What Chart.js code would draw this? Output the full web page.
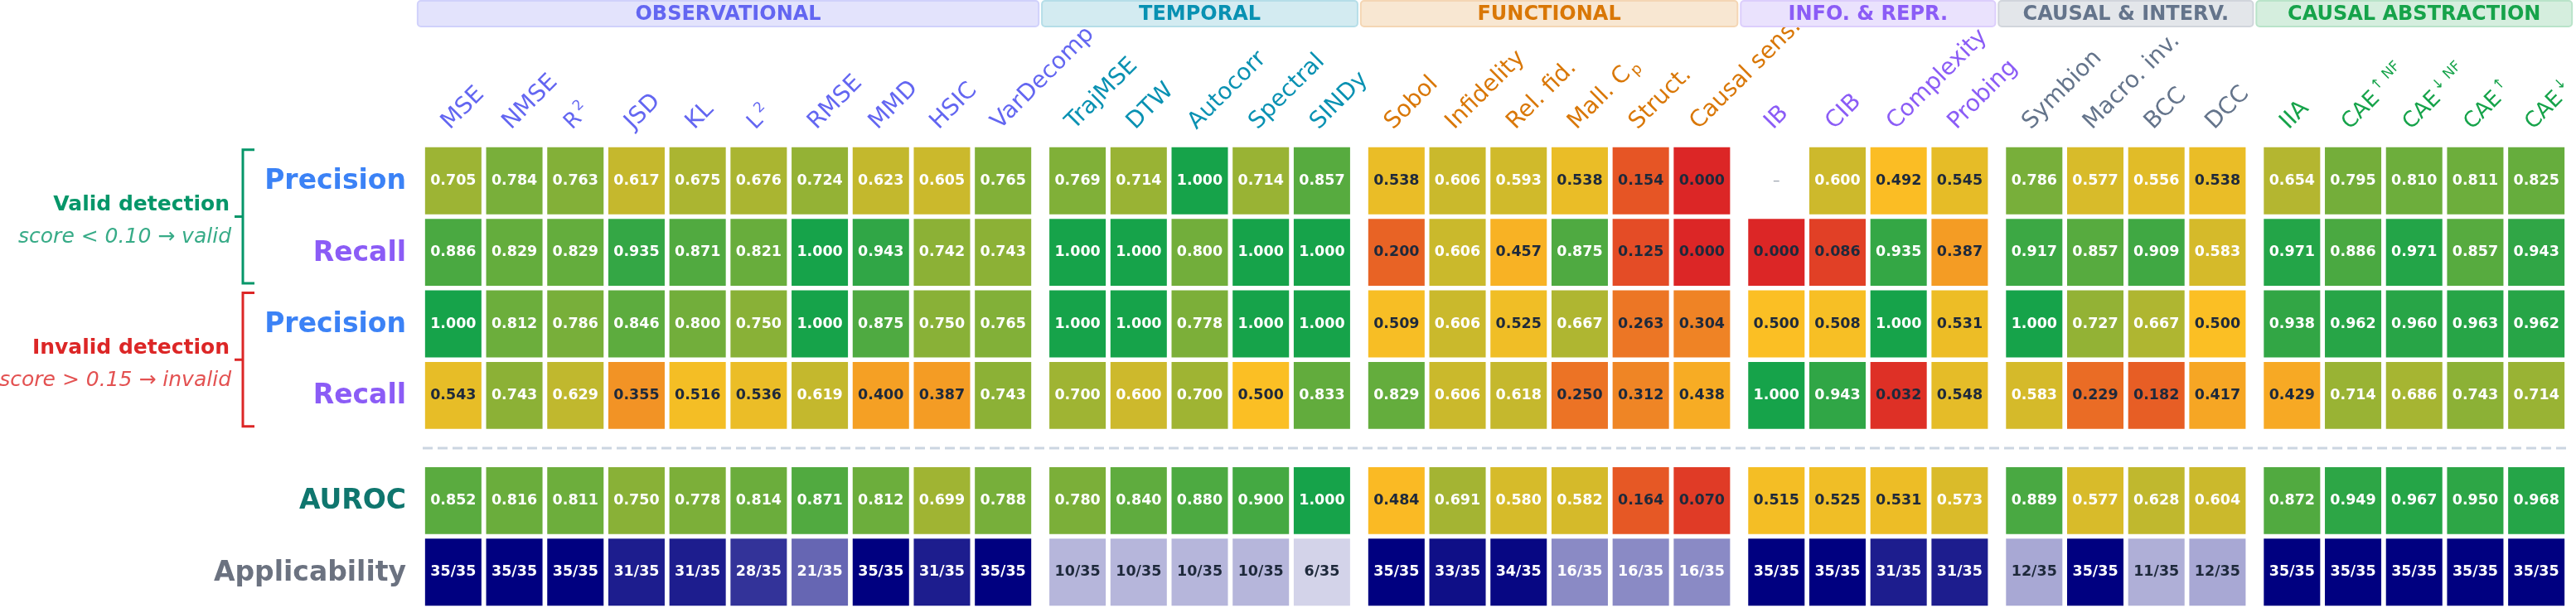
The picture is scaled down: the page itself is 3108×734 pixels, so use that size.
<!DOCTYPE html>
<html>
<head>
<meta charset="utf-8">
<script src="https://cdn.jsdelivr.net/npm/chart.js@4"></script>
<style>
  body { margin: 0; background: #fff; }
  #wrap { width: 3108px; height: 734px; position: relative; }
</style>
</head>
<body>
<div id="wrap"><canvas id="heat"></canvas></div>
<script>
// groups of metrics
const groups = ["OBSERVATIONAL", "TEMPORAL", "FUNCTIONAL", "INFO. & REPR.", "CAUSAL & INTERV.", "CAUSAL ABSTRACTION"];
const groupSizes = [10, 5, 6, 4, 4, 5];
const groupColors = ["#6366f1", "#0891b2", "#d97706", "#8b5cf6", "#64748b", "#16a34a"];

// ^ = superscript, _ = subscript
const metrics = [
    "MSE", "NMSE", "R^2", "JSD", "KL", "L^2", "RMSE", "MMD", "HSIC", "VarDecomp",
    "TrajMSE", "DTW", "Autocorr", "Spectral", "SINDy",
    "Sobol", "Infidelity", "Rel. fid.", "Mall. C_p", "Struct.", "Causal sens.",
    "IB", "CIB", "Complexity", "Probing",
    "Symbion", "Macro. inv.", "BCC", "DCC",
    "IIA", "CAE^↑ NF", "CAE^↓ NF", "CAE^↑", "CAE^↓"
];

const validPrecision = [0.705, 0.784, 0.763, 0.617, 0.675, 0.676, 0.724, 0.623, 0.605, 0.765,
    0.769, 0.714, 1.000, 0.714, 0.857,
    0.538, 0.606, 0.593, 0.538, 0.154, 0.000,
    null, 0.600, 0.492, 0.545,
    0.786, 0.577, 0.556, 0.538,
    0.654, 0.795, 0.810, 0.811, 0.825];
const validRecall = [0.886, 0.829, 0.829, 0.935, 0.871, 0.821, 1.000, 0.943, 0.742, 0.743,
    1.000, 1.000, 0.800, 1.000, 1.000,
    0.200, 0.606, 0.457, 0.875, 0.125, 0.000,
    0.000, 0.086, 0.935, 0.387,
    0.917, 0.857, 0.909, 0.583,
    0.971, 0.886, 0.971, 0.857, 0.943];
const invalidPrecision = [1.000, 0.812, 0.786, 0.846, 0.800, 0.750, 1.000, 0.875, 0.750, 0.765,
    1.000, 1.000, 0.778, 1.000, 1.000,
    0.509, 0.606, 0.525, 0.667, 0.263, 0.304,
    0.500, 0.508, 1.000, 0.531,
    1.000, 0.727, 0.667, 0.500,
    0.938, 0.962, 0.960, 0.963, 0.962];
const invalidRecall = [0.543, 0.743, 0.629, 0.355, 0.516, 0.536, 0.619, 0.400, 0.387, 0.743,
    0.700, 0.600, 0.700, 0.500, 0.833,
    0.829, 0.606, 0.618, 0.250, 0.312, 0.438,
    1.000, 0.943, 0.032, 0.548,
    0.583, 0.229, 0.182, 0.417,
    0.429, 0.714, 0.686, 0.743, 0.714];
const auroc = [0.852, 0.816, 0.811, 0.750, 0.778, 0.814, 0.871, 0.812, 0.699, 0.788,
    0.780, 0.840, 0.880, 0.900, 1.000,
    0.484, 0.691, 0.580, 0.582, 0.164, 0.070,
    0.515, 0.525, 0.531, 0.573,
    0.889, 0.577, 0.628, 0.604,
    0.872, 0.949, 0.967, 0.950, 0.968];
const applicable = [35, 35, 35, 31, 31, 28, 21, 35, 31, 35,
    10, 10, 10, 10, 6,
    35, 33, 34, 16, 16, 16,
    35, 35, 31, 31,
    12, 35, 11, 12,
    35, 35, 35, 35, 35];
const totalCases = 35;

const rowLabels = ["Precision", "Recall", "Precision", "Recall", "AUROC", "Applicability"];
const rowColors = ["#3b82f6", "#8b5cf6", "#3b82f6", "#8b5cf6", "#0f766e", "#6b7280"];
const rowValues = [validPrecision, validRecall, invalidPrecision, invalidRecall, auroc, applicable];

const blocks = [
    { title: "Valid detection", note: "score < 0.10 \u2192 valid", color: "#059669", rows: [0, 1] },
    { title: "Invalid detection", note: "score > 0.15 \u2192 invalid", color: "#dc2626", rows: [2, 3] }
];

// layout helpers
const groupGap = 0.22;
const rowPos = [0, 1, 2, 3, 4.47, 5.47];
const colGroup = [];
groupSizes.forEach((n, g) => { for (let k = 0; k < n; k++) colGroup.push(g); });
const colPos = metrics.map((_, i) => i + colGroup[i] * groupGap);

function hexRgb(h) {
    return [1, 3, 5].map(k => parseInt(h.slice(k, k + 2), 16));
}
function mix(hex, a) {
    const c = hexRgb(hex).map(v => Math.round(255 - a * (255 - v)));
    return `rgb(${c[0]}, ${c[1]}, ${c[2]})`;
}
function lerp(a, b, t) {
    return a.map((v, k) => Math.round(v + (b[k] - v) * t));
}
function heat(v) {
    const red = [220, 38, 38], amber = [251, 191, 36], green = [22, 163, 74];
    const c = v < 0.5 ? lerp(red, amber, v / 0.5) : lerp(amber, green, (v - 0.5) / 0.5);
    return `rgb(${c[0]}, ${c[1]}, ${c[2]})`;
}
function cellColor(r, v) {
    if (r === 5) return `rgba(0, 0, 128, ${v / totalCases})`;
    return heat(v);
}
function textColor(r, v) {
    if (r === 5) return v / totalCases < 0.4 ? "#1e293b" : "#ffffff";
    return v < 0.55 ? "#1e293b" : "#ffffff";
}

const datasets = rowValues.map((vals, r) => ({
    label: rowLabels[r],
    data: vals
        .map((v, i) => ({ x: colPos[i], y: [rowPos[r] - 0.48, rowPos[r] + 0.48], v: v }))
        .filter(d => d.v !== null),
    backgroundColor: c => c.raw ? cellColor(r, c.raw.v) : "#ccc",
    borderColor: "rgba(255, 255, 255, 0.5)",
    borderWidth: 1,
    borderSkipped: false,
    grouped: false,
    barPercentage: 0.95,
    categoryPercentage: 1
}));

function drawLabel(ctx, s, size) {
    const m = s.match(/^(.*?)([\^_])(.*)$/);
    const main = m ? m[1] : s;
    ctx.font = `${size}px 'DejaVu Sans'`;
    ctx.fillText(main, 0, 0);
    if (m) {
        const w = ctx.measureText(main).width;
        const small = Math.round(size * 0.66);
        ctx.font = `${small}px 'DejaVu Sans'`;
        ctx.fillText(m[3], w + 3, m[2] === "^" ? -size * 0.42 : size * 0.18);
    }
}

const decor = {
    id: "decor",
    afterDatasetsDraw(chart) {
        const { ctx, chartArea, scales: { x, y } } = chart;
        const pitch = x.getPixelForValue(1) - x.getPixelForValue(0);
        const half = pitch * 0.95 / 2;
        ctx.save();

        // values in cells
        ctx.textAlign = "center";
        ctx.textBaseline = "middle";
        rowValues.forEach((vals, r) => {
            const cy = y.getPixelForValue(rowPos[r]);
            vals.forEach((v, i) => {
                const cx = x.getPixelForValue(colPos[i]);
                if (v === null) {
                    ctx.font = "17px 'DejaVu Sans'";
                    ctx.fillStyle = "#9ca3af";
                    ctx.fillText("\u2013", cx, cy);
                    return;
                }
                ctx.font = "bold 17.5px 'DejaVu Sans'";
                ctx.fillStyle = textColor(r, v);
                ctx.fillText(r === 5 ? `${v}/${totalCases}` : v.toFixed(3), cx, cy);
            });
        });

        // dashed separator
        const sepY = y.getPixelForValue((rowPos[3] + 0.48 + rowPos[4] - 0.48) / 2);
        ctx.strokeStyle = "#cbd5e1";
        ctx.lineWidth = 3;
        ctx.setLineDash([12, 6]);
        ctx.beginPath();
        ctx.moveTo(chartArea.left, sepY);
        ctx.lineTo(chartArea.right, sepY);
        ctx.stroke();
        ctx.setLineDash([]);

        // rotated column labels
        ctx.textAlign = "left";
        ctx.textBaseline = "alphabetic";
        metrics.forEach((name, i) => {
            const cx = x.getPixelForValue(colPos[i]);
            ctx.save();
            ctx.translate(cx - 4, 157);
            ctx.rotate(-Math.PI / 4);
            ctx.fillStyle = groupColors[colGroup[i]];
            drawLabel(ctx, name, /[\^]/.test(name) ? 26 : 28);
            ctx.restore();
        });

        // group header boxes
        let start = 0;
        groups.forEach((g, k) => {
            const end = start + groupSizes[k] - 1;
            const x0 = x.getPixelForValue(colPos[start]) - half - 8;
            const x1 = x.getPixelForValue(colPos[end]) + half + 8;
            ctx.beginPath();
            ctx.roundRect(x0, 1, x1 - x0, 31, 4);
            ctx.fillStyle = mix(groupColors[k], 0.18);
            ctx.fill();
            ctx.lineWidth = 2;
            ctx.strokeStyle = mix(groupColors[k], 0.3);
            ctx.stroke();
            ctx.fillStyle = groupColors[k];
            ctx.font = "bold 24px 'DejaVu Sans'";
            ctx.textAlign = "center";
            ctx.fillText(g, (x0 + x1) / 2, 24);
            start = end + 1;
        });

        // row labels
        ctx.textAlign = "right";
        rowLabels.forEach((lab, r) => {
            ctx.font = "bold 33px 'DejaVu Sans'";
            ctx.fillStyle = rowColors[r];
            ctx.fillText(lab, 490, y.getPixelForValue(rowPos[r]) + 10);
        });

        // brackets
        blocks.forEach(b => {
            const y0 = y.getPixelForValue(rowPos[b.rows[0]] - 0.48) + 4;
            const y1 = y.getPixelForValue(rowPos[b.rows[1]] + 0.48) - 4;
            const ym = (y0 + y1) / 2;
            ctx.strokeStyle = b.color;
            ctx.lineWidth = 3;
            ctx.beginPath();
            ctx.moveTo(307, y0);
            ctx.lineTo(293, y0);
            ctx.lineTo(293, y1);
            ctx.lineTo(307, y1);
            ctx.moveTo(283, ym);
            ctx.lineTo(293, ym);
            ctx.stroke();
            ctx.fillStyle = b.color;
            ctx.font = "bold 25px 'DejaVu Sans'";
            ctx.fillText(b.title, 277, ym - 7);
            ctx.globalAlpha = 0.8;
            ctx.font = "italic 25px 'DejaVu Sans'";
            ctx.fillText(b.note, 279, ym + 32);
            ctx.globalAlpha = 1;
        });

        ctx.restore();
    }
};

const lastPos = colPos[colPos.length - 1];
new Chart(document.getElementById("heat"), {
    type: "bar",
    data: { datasets: datasets },
    options: {
        responsive: true,
        maintainAspectRatio: false,
        animation: false,
        layout: { padding: { left: 510, right: 11, top: 175, bottom: 0 } },
        plugins: { legend: { display: false }, tooltip: { enabled: false } },
        scales: {
            x: { type: "linear", min: -0.5, max: lastPos + 0.5, offset: false, display: false },
            y: { type: "linear", min: -0.5, max: rowPos[5] + 0.5, reverse: true, display: false }
        }
    },
    plugins: [decor]
});
</script>
</body>
</html>
